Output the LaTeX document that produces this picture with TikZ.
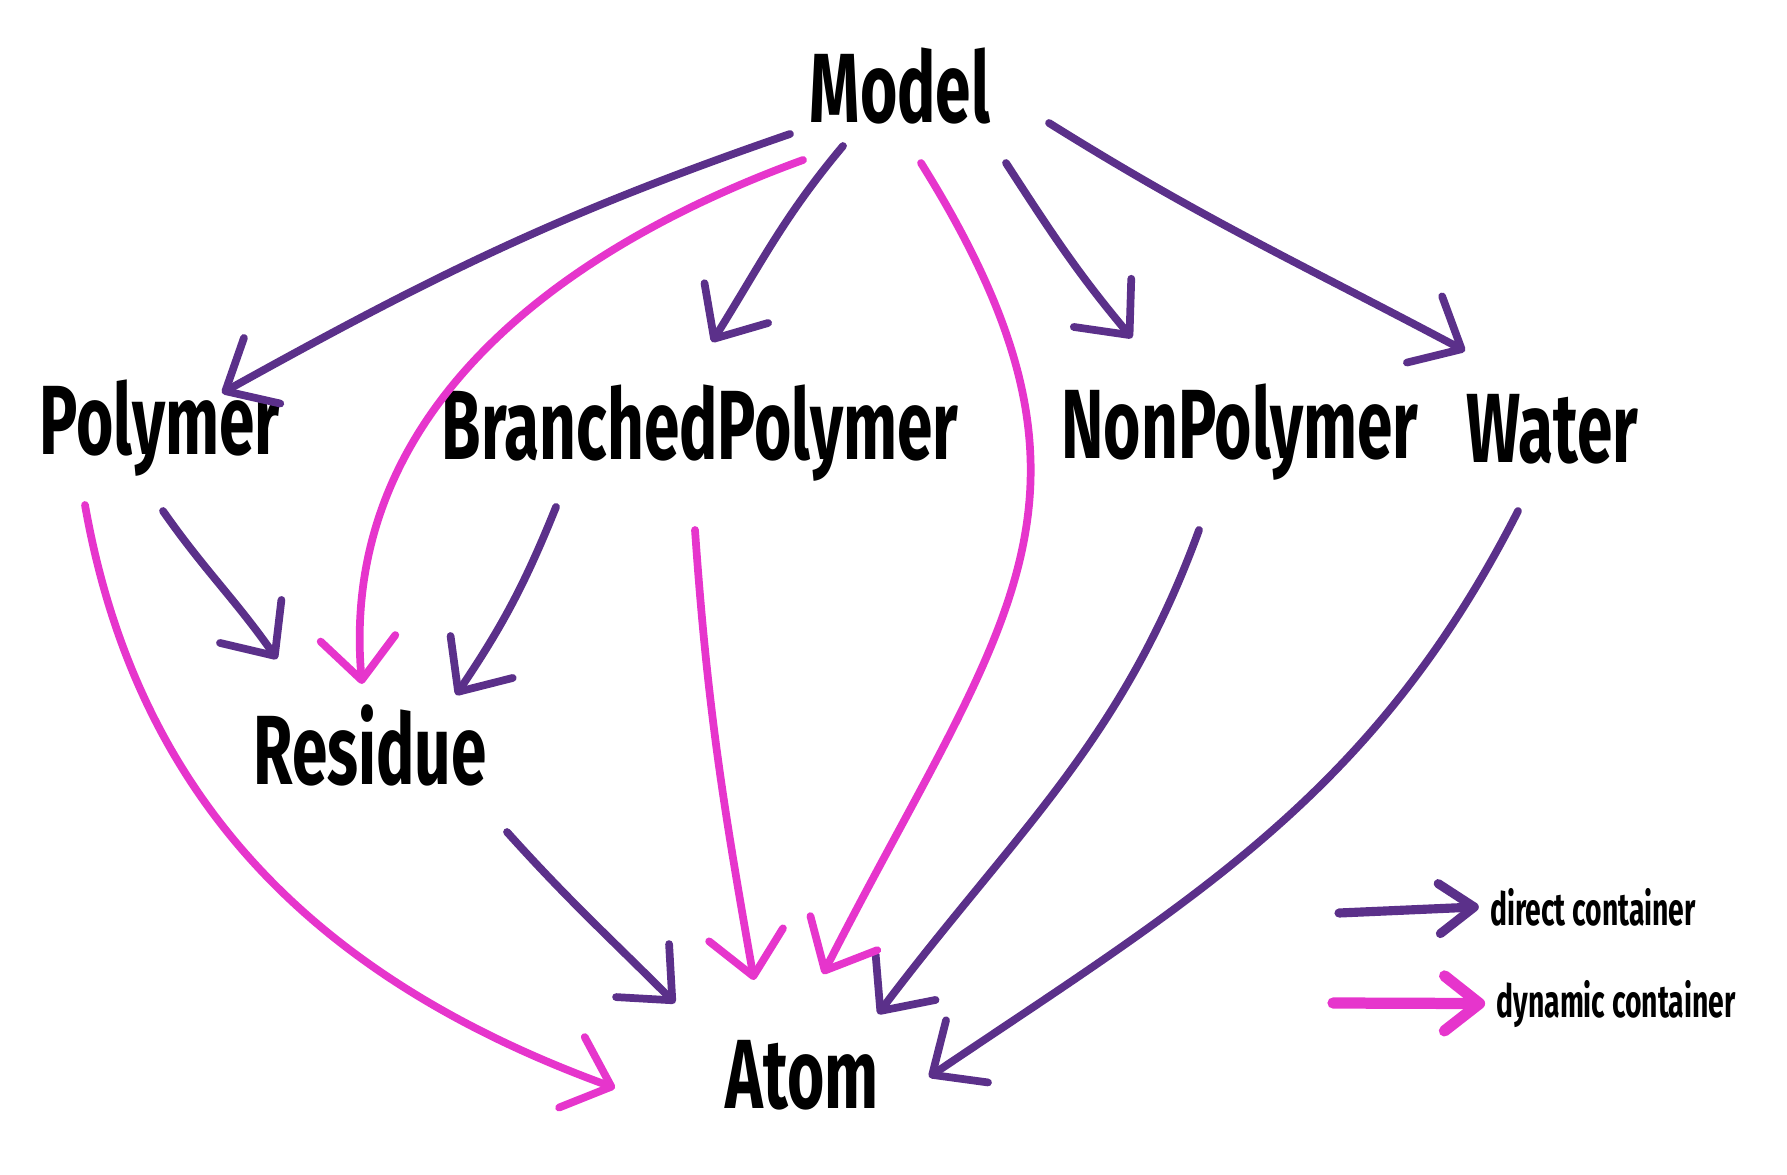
\documentclass[tikz,border=0pt]{standalone}
\usepackage{fontspec}
\setmainfont{Fira Sans}
\usetikzlibrary{arrows.meta}
\definecolor{grape}{RGB}{91,48,138}
\definecolor{orchid}{RGB}{230,53,204}

\begin{document}
\begin{tikzpicture}[>={Straight Barb[length=4.2mm,width=7.5mm,round]},
  word/.style={font=\bfseries\fontsize{28}{32}\selectfont, xscale=0.65, anchor=base, inner sep=4pt},
  legtext/.style={font=\bfseries\fontsize{13}{15}\selectfont, xscale=0.62, anchor=base, inner sep=5pt},
  direct/.style={->, grape, line width=2.2pt, line cap=round},
  dynamic/.style={->, orchid, line width=2.2pt, line cap=round}]
\useasboundingbox (0,0) rectangle (17.87,11.74);
% words
\node[word] (model) at (9.00,10.51) {Model};
\node[word] (poly) at (1.60,7.20) {Polymer};
\node[word] (bpoly) at (7.00,7.15) {BranchedPolymer};
\node[word] (nonpoly) at (12.40,7.16) {NonPolymer};
\node[word] (water) at (15.52,7.12) {Water};
\node[word] (res) at (3.70,3.90) {Residue};
\node[word] (atom) at (8.02,0.66) {Atom};
% direct containers
\draw[direct] ([shift={(-1.10,-0.11)}]model.base) to[out=199,in=29] ([shift={(0.62,0.61)}]poly.base);
\draw[direct] ([shift={(-0.57,-0.23)}]model.base) to[out=230,in=58] ([shift={(0.12,1.17)}]bpoly.base);
\draw[direct] ([shift={(1.06,-0.40)}]model.base) to[out=-57,in=130] ([shift={(-1.08,1.20)}]nonpoly.base);
\draw[direct] ([shift={(1.49,0.00)}]model.base) to[out=-32,in=152] ([shift={(-0.87,1.11)}]water.base);
\draw[direct] ([shift={(0.03,-0.57)}]poly.base) to[out=-55,in=125] ([shift={(-0.93,1.25)}]res.base);
\draw[direct] ([shift={(-1.44,-0.48)}]bpoly.base) to[out=248,in=56] ([shift={(0.86,0.89)}]res.base);
\draw[direct] ([shift={(1.37,-0.48)}]res.base) to[out=-48,in=135] ([shift={(-1.27,1.05)}]atom.base);
\draw[direct] ([shift={(-0.41,-0.72)}]nonpoly.base) to[out=250,in=53] ([shift={(0.76,0.94)}]atom.base);
\draw[direct] ([shift={(-0.34,-0.49)}]water.base) to[out=243,in=34] ([shift={(1.27,0.31)}]atom.base);
% dynamic containers
\draw[dynamic] ([shift={(-0.97,-0.37)}]model.base) to[out=200,in=95] ([shift={(-0.08,1.00)}]res.base);
\draw[dynamic] ([shift={(0.21,-0.40)}]model.base) to[out=-58,in=63,looseness=1.25] ([shift={(0.21,1.34)}]atom.base);
\draw[dynamic] ([shift={(-0.75,-0.51)}]poly.base) to[out=-80,in=160] ([shift={(-1.87,0.20)}]atom.base);
\draw[dynamic] ([shift={(-0.05,-0.71)}]bpoly.base) to[out=-86,in=100] ([shift={(-0.48,1.28)}]atom.base);
% legend
\node[legtext] (dirtxt) at (15.93,2.49) {direct container};
\node[legtext] (dyntxt) at (16.16,1.57) {dynamic container};
\coordinate (dirtail) at (13.39,2.61);
\coordinate (dyntail) at (13.33,1.71);
\draw[direct, line width=2.6pt, >={Straight Barb[length=3.5mm,width=5mm,round]}] (dirtail) -- (dirtxt.west);
\draw[dynamic, line width=3.2pt, >={Straight Barb[length=3.5mm,width=5.5mm,round]}] (dyntail) -- (dyntxt.west);
\end{tikzpicture}
\end{document}
